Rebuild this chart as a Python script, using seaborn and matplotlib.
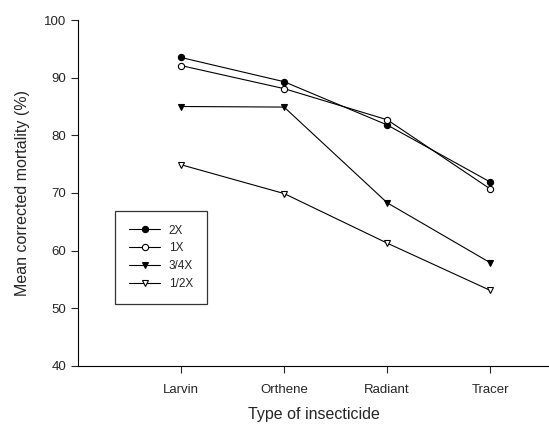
import pandas as pd
import matplotlib
matplotlib.use('Agg')
import matplotlib.pyplot as plt
import seaborn as sns
from matplotlib.lines import Line2D

insecticides = ['Larvin', 'Orthene', 'Radiant', 'Tracer']
rate_2x = [93.5, 89.3, 81.8, 71.9]
rate_1x = [92.1, 88.1, 82.7, 70.7]
rate_34x = [85.0, 84.9, 68.3, 57.9]
rate_12x = [74.9, 69.9, 61.3, 53.1]

series = {'2X': rate_2x, '1X': rate_1x, '3/4X': rate_34x, '1/2X': rate_12x}
styles = {'2X': ('o', 'black'), '1X': ('o', 'white'),
          '3/4X': ('v', 'black'), '1/2X': ('v', 'white')}

rows = []
for name, vals in series.items():
    for i, v in enumerate(vals):
        rows.append({'pos': i + 1, 'insecticide': insecticides[i], 'dose': name, 'mortality': v})
df = pd.DataFrame(rows)

sns.set_style('ticks')
plt.rcParams['font.family'] = ['Liberation Sans', 'DejaVu Sans']

fig = plt.figure(figsize=(5.49, 4.26), dpi=100)
ax = fig.add_axes([0.142, 0.141, 0.858, 0.812])

handles = []
for name in series:
    mk, fc = styles[name]
    sub = df[df.dose == name]
    sns.lineplot(data=sub, x='pos', y='mortality', ax=ax, color='black', linewidth=0.8,
                 marker=mk, markersize=4.5, markerfacecolor=fc, markeredgecolor='black',
                 markeredgewidth=0.8, legend=False)
    handles.append(Line2D([], [], color='black', linewidth=0.8, marker=mk, markersize=4.5,
                          markerfacecolor=fc, markeredgecolor='black', markeredgewidth=0.8,
                          label=name))

ax.set_xlim(0, 4.57)
ax.set_ylim(40, 100)
ax.set_xticks([1, 2, 3, 4])
ax.set_xticklabels(insecticides, fontsize=9.5)
ax.set_yticks(range(40, 101, 10))
ax.tick_params(axis='y', labelsize=9.5, length=5, width=0.8, direction='out')
ax.tick_params(axis='x', length=5, width=0.8, direction='out', pad=8)
for s in ['left', 'bottom']:
    ax.spines[s].set_linewidth(0.8)
    ax.spines[s].set_color('black')
sns.despine(ax=ax)

ax.set_xlabel('Type of insecticide', fontsize=11.5, labelpad=8)
ax.set_ylabel('Mean corrected mortality (%)', fontsize=11.5, labelpad=10)

leg = ax.legend(handles=handles, loc='upper left', bbox_to_anchor=(115 / 549, 1 - 211 / 426),
                bbox_transform=fig.transFigure, fontsize=8.5, frameon=True, fancybox=False,
                edgecolor='black', handlelength=2.7, borderpad=1.15, labelspacing=0.5,
                handletextpad=0.7, borderaxespad=0)
leg.get_frame().set_linewidth(0.9)

plt.savefig('out.png', dpi=100)
